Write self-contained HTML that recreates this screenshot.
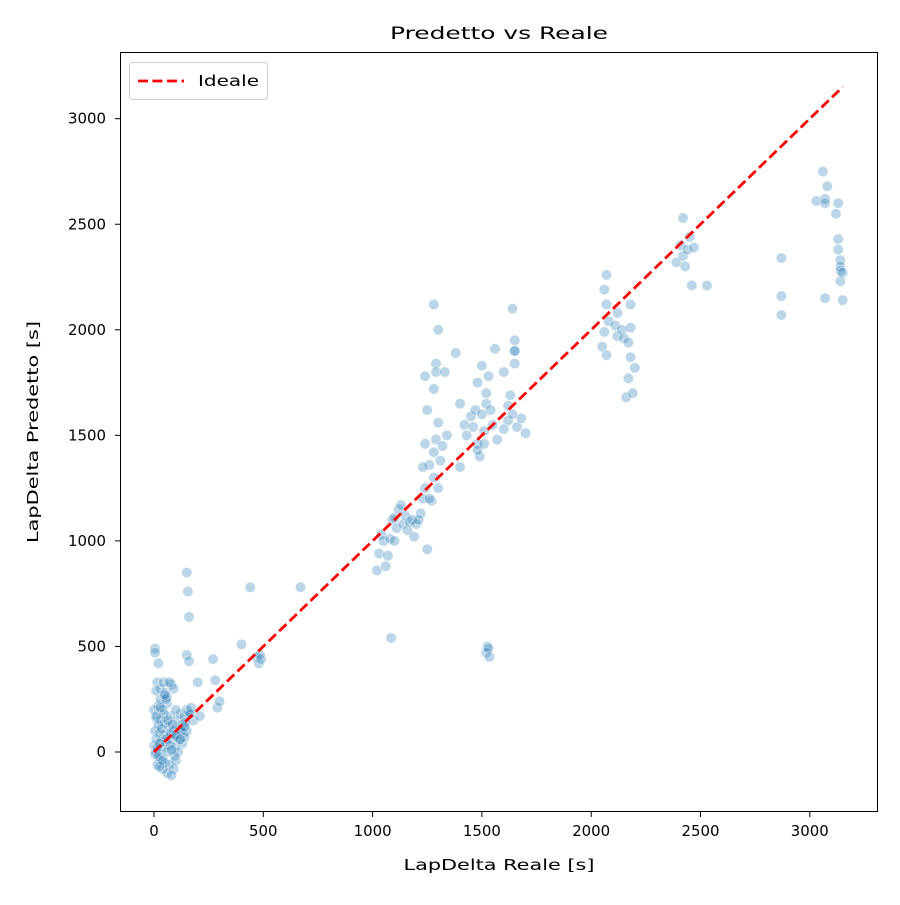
<!DOCTYPE html>
<html><head><meta charset="utf-8"><style>
body{margin:0;background:#fff;font-family:"Liberation Sans","DejaVu Sans",sans-serif}
svg text{font-family:"DejaVu Sans","Liberation Sans",sans-serif}
</style></head><body>
<svg id="chart" width="900" height="900" xmlns="http://www.w3.org/2000/svg">
<rect width="900" height="900" fill="#fff"/>
<text x="499" y="39" style="font-size:17px" textLength="218" lengthAdjust="spacingAndGlyphs" text-anchor="middle">Predetto vs Reale</text>
<g id="marks"></g>
<g id="axes"></g>
<rect x="120.5" y="52.5" width="757" height="759" fill="none" stroke="#000" stroke-width="1"/>
<text x="499" y="870" style="font-size:15px" textLength="191" lengthAdjust="spacingAndGlyphs" text-anchor="middle">LapDelta Reale [s]</text>
<text transform="translate(38,432) rotate(-90)" style="font-size:15px" textLength="222" lengthAdjust="spacingAndGlyphs" text-anchor="middle">LapDelta Predetto [s]</text>
<g>
<rect x="129.5" y="62.5" width="138" height="37" rx="3" fill="#fff" fill-opacity="0.8" stroke="#ccc"/>
<line x1="138" y1="81" x2="184" y2="81" stroke="#ff0000" stroke-width="2.8" stroke-dasharray="10,4.5"/>
<text x="198" y="86" style="font-size:15px" textLength="61" lengthAdjust="spacingAndGlyphs">Ideale</text>
</g>
</svg>
<script>
const xTicks=[0,500,1000,1500,2000,2500,3000];
const yTicks=[0,500,1000,1500,2000,2500,3000];
const idealLine=[0,3150];
const realX=[5,5,20,15,30,10,50,80,90,60,20,40,10,30,50,70,5,25,45,65,85,100,110,120,140,150,160,170,130,90,60,40,20,10,5,30,50,70,90,40,60,80,100,15,25,35,55,75,95,115,135,150,180,210,200,150,160,150,155,160,270,280,290,300,400,440,670,470,480,490,485,0,10,20,0,30,45,60,75,100,120,130,140,110,95,
15,25,35,45,55,65,75,85,105,125,145,165,20,40,60,80,100,120,140,10,30,50,70,
1020,1030,1040,1050,1060,1070,1080,1090,1100,1110,1120,1130,1140,1150,1160,1170,1180,1200,1220,1230,1240,1250,1260,1230,1240,1250,1240,1270,1280,1290,1290,1280,1300,1290,1280,1300,1310,1320,1330,1340,1300,1280,1260,1210,1190,1085,1100,
1380,1400,1400,1420,1430,1450,1470,1480,1480,1490,1500,1500,1510,1520,1520,1530,1540,1550,1560,1570,1480,1460,1510,1525,1520,1530,1535,1600,1620,1630,1640,1640,1650,1650,1650,1660,1680,1700,1600,1620,1650,
2050,2060,2060,2070,2070,2070,2080,2110,2120,2120,2140,2150,2160,2170,2170,2180,2180,2180,2190,2200,2390,2410,2420,2420,2430,2440,2450,2460,2470,2530,
2870,2870,2870,3030,3060,3070,3070,3080,3070,3120,3130,3130,3130,3140,3140,3140,3140,3150,3150];
const predY=[490,470,420,330,300,290,280,320,300,230,220,200,160,150,140,120,100,90,80,70,60,110,150,180,170,200,190,210,130,100,40,20,10,0,-10,-30,-50,-60,-80,-80,-100,-110,-40,-60,-70,50,60,30,20,60,90,100,150,170,330,460,430,850,760,640,440,340,210,240,510,780,780,450,420,440,460,30,60,130,200,250,330,260,170,200,110,40,70,0,-20,
20,40,110,180,250,150,90,130,70,100,140,180,-20,-40,0,10,80,60,120,170,210,270,330,
860,940,1030,1000,880,930,1010,1100,1110,1060,1150,1170,1080,1120,1050,1090,1100,1080,1130,1200,1250,960,1360,1350,1460,1620,1780,1190,1300,1480,1840,2120,2000,1800,1720,1560,1380,1450,1800,1500,1250,1420,1200,1100,1020,540,1000,
1890,1350,1650,1550,1500,1590,1620,1750,1460,1400,1830,1600,1520,1700,1650,1780,1620,1550,1910,1480,1430,1540,1460,500,470,490,450,1800,1570,1690,1600,2100,1950,1900,1840,1540,1580,1510,1530,1640,1900,
1920,2190,1990,2260,2120,1880,2040,2020,1970,2080,2000,1960,1680,1940,1770,1870,2010,2120,1700,1820,2320,2400,2530,2350,2300,2380,2440,2210,2390,2210,
2340,2160,2070,2610,2750,2620,2600,2680,2150,2550,2600,2430,2380,2330,2300,2280,2230,2270,2140];
const NS="http://www.w3.org/2000/svg";
function sx(v){return 154+v*0.2186;}
function sy(v){return 752-v*0.2111;}
const marks=document.getElementById('marks');
for(let i=0;i<realX.length;i++){
 const c=document.createElementNS(NS,'circle');
 c.setAttribute('cx',sx(realX[i]));c.setAttribute('cy',sy(predY[i]));c.setAttribute('r',5.2);
 c.setAttribute('fill','rgba(31,119,180,0.3)');c.setAttribute('stroke','rgba(255,255,255,0.5)');c.setAttribute('stroke-width','0.8');
 
 
 marks.appendChild(c);
}
const ln=document.createElementNS(NS,'line');
ln.setAttribute('x1',sx(idealLine[0]));ln.setAttribute('y1',sy(idealLine[0]));
ln.setAttribute('x2',sx(idealLine[1]));ln.setAttribute('y2',sy(idealLine[1]));
ln.setAttribute('stroke','#ff0000');ln.setAttribute('stroke-width','2.8');ln.setAttribute('stroke-dasharray','10,4.5');


marks.appendChild(ln);
const axes=document.getElementById('axes');
xTicks.forEach(t=>{
 const x=sx(t);
 const l=document.createElementNS(NS,'line');
 l.setAttribute('x1',x);l.setAttribute('x2',x);l.setAttribute('y1',812);l.setAttribute('y2',817);l.setAttribute('stroke','#000');
 
 
 axes.appendChild(l);
 const tx=document.createElementNS(NS,'text');
 tx.setAttribute('x',x);tx.setAttribute('y',836);tx.setAttribute('style','font-size:15px');tx.setAttribute('text-anchor','middle');
 tx.setAttribute('textLength',String(t).length*9.5);tx.setAttribute('lengthAdjust','spacingAndGlyphs');
 tx.textContent=t;
 
 
 axes.appendChild(tx);
});
yTicks.forEach(t=>{
 const y=sy(t);
 const l=document.createElementNS(NS,'line');
 l.setAttribute('x1',115);l.setAttribute('x2',120);l.setAttribute('y1',y);l.setAttribute('y2',y);l.setAttribute('stroke','#000');
 
 
 axes.appendChild(l);
 const tx=document.createElementNS(NS,'text');
 tx.setAttribute('x',106);tx.setAttribute('y',y+5);tx.setAttribute('style','font-size:15px');tx.setAttribute('text-anchor','end');
 tx.setAttribute('textLength',String(t).length*9.5);tx.setAttribute('lengthAdjust','spacingAndGlyphs');
 tx.textContent=t;
 
 
 axes.appendChild(tx);
});
</script>
</body></html>
